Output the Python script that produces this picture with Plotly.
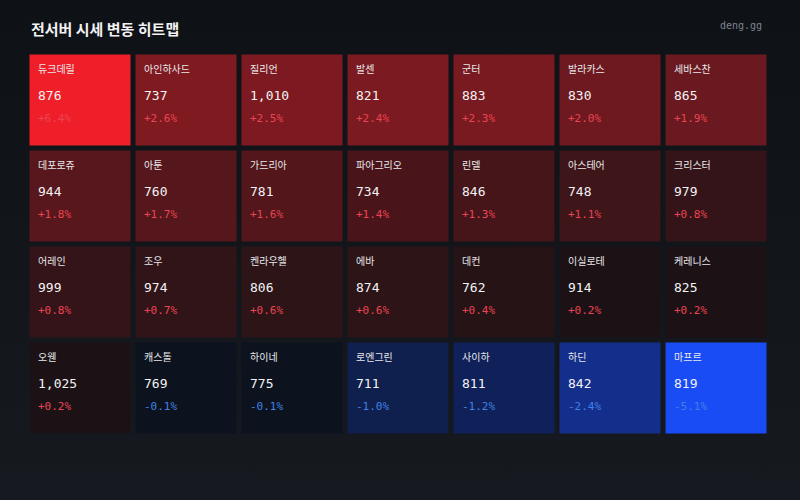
import plotly.graph_objects as go

# ---- data ----
names = [
    ["듀크데릴", "아인하사드", "질리언", "발센", "군터", "발라카스", "세바스찬"],
    ["데포로쥬", "아툰", "가드리아", "파아그리오", "린델", "아스테어", "크리스터"],
    ["어레인", "조우", "켄라우헬", "에바", "데컨", "이실로테", "케레니스"],
    ["오웬", "캐스톨", "하이네", "로엔그린", "사이하", "하딘", "마프르"],
]
prices = [
    [876, 737, 1010, 821, 883, 830, 865],
    [944, 760, 781, 734, 846, 748, 979],
    [999, 974, 806, 874, 762, 914, 825],
    [1025, 769, 775, 711, 811, 842, 819],
]
changes = [
    [6.4, 2.6, 2.5, 2.4, 2.3, 2.0, 1.9],
    [1.8, 1.7, 1.6, 1.4, 1.3, 1.1, 0.8],
    [0.8, 0.7, 0.6, 0.6, 0.4, 0.2, 0.2],
    [0.2, -0.1, -0.1, -1.0, -1.2, -2.4, -5.1],
]

# colour stops (change value -> tile colour)
stop_values = [-5.1, -2.4, -1.2, -1.0, -0.1, 0.2, 0.4, 0.6, 0.7, 0.8, 1.1, 1.3, 1.4,
               1.6, 1.7, 1.8, 1.9, 2.0, 2.3, 2.4, 2.5, 2.6, 6.4]
stop_colors = ["#1a4cf5", "#142e8c", "#10215a", "#0f1f4e", "#0d131e", "#1c1216",
               "#251316", "#2c1417", "#311418", "#341418", "#3e1519", "#46151a",
               "#4a151a", "#52161b", "#55171c", "#58171c", "#6a1920", "#6e1920",
               "#781a20", "#7b1a21", "#7d1a21", "#7f1a21", "#ef1f29"]

zmin, zmax = stop_values[0], stop_values[-1]
colorscale = [[(v - zmin) / (zmax - zmin), c] for v, c in zip(stop_values, stop_colors)]

W, H = 800, 500
x0, x1 = 27.5, 769.5
y0, y1 = 52.5, 436.5

fig = go.Figure()

# background gradient
fig.add_trace(go.Scatter(
    x=[0, 1, 1, 0, 0], y=[0, 0, 1, 1, 0], mode="lines", fill="toself",
    line=dict(width=0),
    fillgradient=dict(type="vertical", colorscale=[[0, "#161a20"], [1, "#0e1115"]]),
    hoverinfo="skip", showlegend=False, xaxis="x", yaxis="y",
))

ncols = len(names[0])
nrows = len(names)

fig.add_trace(go.Heatmap(
    z=changes, x=list(range(ncols)), y=list(range(nrows)),
    colorscale=colorscale, zmin=zmin, zmax=zmax, showscale=False,
    xgap=5, ygap=5, hoverinfo="skip", xaxis="x2", yaxis="y2",
))

mono = "DejaVu Sans Mono"
kr = "Noto Sans CJK KR"
ann = []
for i in range(nrows):
    for j in range(ncols):
        c = changes[i][j]
        ccol = "#ec4452" if c > 0 else "#3f82e6"
        base = dict(xref="x2", yref="y2", x=j - 0.5, y=i - 0.5, xanchor="left",
                    yanchor="middle", showarrow=False, xshift=8.5)
        ann.append(dict(base, text=names[i][j], yshift=-16.3,
                        font=dict(family=kr, size=10, color="#e8e8ea")))
        ann.append(dict(base, text=f"{prices[i][j]:,}", yshift=-42.5,
                        font=dict(family=mono, size=13, color="#f2f2f4")))
        ann.append(dict(base, text=f"{c:+.1f}%", yshift=-65.8,
                        font=dict(family=mono, size=11, color=ccol)))

ann.append(dict(xref="paper", yref="paper", x=28.5 / W, y=1 - 28 / H, xanchor="left",
                yanchor="middle", showarrow=False, text="<b>전서버 시세 변동 히트맵</b>",
                font=dict(family=kr, size=15, color="#f2f2f4")))
ann.append(dict(xref="paper", yref="paper", x=764 / W, y=1 - 25 / H, xanchor="right",
                yanchor="middle", showarrow=False, text="deng.gg",
                font=dict(family=mono, size=10, color="#7d848e")))

fig.update_layout(
    width=W, height=H, margin=dict(l=0, r=0, t=0, b=0),
    paper_bgcolor="#12151a", plot_bgcolor="rgba(0,0,0,0)",
    xaxis=dict(domain=[0, 1], range=[0, 1], visible=False, fixedrange=True),
    yaxis=dict(domain=[0, 1], range=[0, 1], visible=False, fixedrange=True),
    xaxis2=dict(domain=[x0 / W, x1 / W], range=[-0.5, ncols - 0.5], visible=False,
                anchor="y2", fixedrange=True),
    yaxis2=dict(domain=[1 - y1 / H, 1 - y0 / H], range=[nrows - 0.5, -0.5], visible=False,
                anchor="x2", fixedrange=True),
    annotations=ann, showlegend=False,
)

fig.write_html("out.html", config={"displayModeBar": False})
